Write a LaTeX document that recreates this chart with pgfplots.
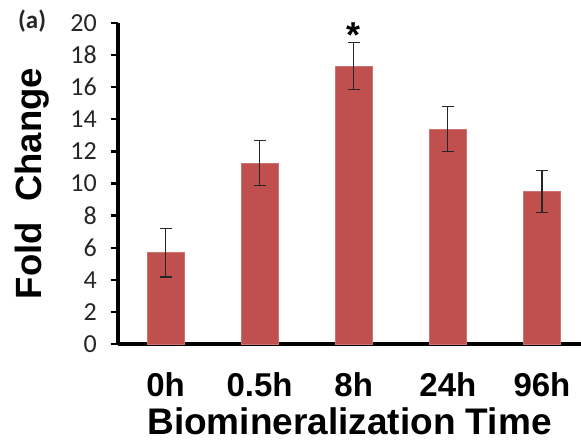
\documentclass[border=0pt]{standalone}
\usepackage{pgfplots}
\pgfplotsset{compat=1.18}
\usepackage{fontspec}
\setmainfont{Liberation Sans}
\newfontfamily\calib{Carlito}
\definecolor{barred}{HTML}{C0504D}
\begin{document}
\begin{tikzpicture}
\begin{axis}[
  scale only axis,
  width=463pt, height=321pt,
  xmin=-0.505, xmax=4.415,
  ymin=0, ymax=20,
  axis x line=bottom, axis y line=left,
  axis line style={line width=3.6pt, -},
  xtick=data,
  xticklabels={0h,0.5h,8h,24h,96h},
  x tick style={draw=none},
  ytick={0,2,...,20},
  tick align=outside,
  major tick length=7pt,
  y tick style={line width=2.4pt, black},
  xticklabel style={font=\fontsize{33}{38}\selectfont\bfseries, anchor=north, inner sep=0pt, yshift=-21pt},
  yticklabel style={font=\calib\fontsize{26}{30}\selectfont, text=black!85, anchor=east, inner sep=0pt, xshift=-14pt},
  /pgf/number format/assume math mode=true,
  xlabel={Biomineralization Time},
  ylabel={Fold\ \ Change},
  xlabel style={font=\fontsize{37}{42}\selectfont\bfseries, at={(rel axis cs:0.5,0)}, anchor=north, inner sep=0pt, yshift=-63pt},
  ylabel style={font=\fontsize{36.5}{42}\selectfont\bfseries, at={([xshift=-103pt]rel axis cs:0,0.5)}, anchor=north, inner sep=0pt},
  clip=false,
]
\addplot[ybar, bar width=37pt, fill=barred, draw=barred!80!white, line width=0.6pt,
  error bars/.cd, y dir=both, y explicit,
  error bar style={line width=1.3pt, black!85},
  error mark options={rotate=90, mark size=6pt, line width=1.3pt, black!85}]
  coordinates {
  (0,5.69) +- (0,1.52)
  (1,11.26) +- (0,1.40)
  (2,17.32) +- (0,1.48)
  (3,13.38) +- (0,1.40)
  (4,9.51) +- (0,1.30)
  };
\node[anchor=base, inner sep=0pt, font=\fontsize{36}{40}\selectfont\bfseries] at (axis cs:2,18.45) {*};
\node[anchor=west, inner sep=0pt, font=\calib\bfseries\fontsize{25}{30}\selectfont, text=black!85] at ([xshift=-100pt, yshift=2pt]rel axis cs:0,1) {(a)};
\end{axis}
\pgfresetboundingbox
\path ([xshift=-118pt,yshift=-98pt]current axis.south west) rectangle ([yshift=23pt]current axis.north east);
\end{tikzpicture}
\end{document}
